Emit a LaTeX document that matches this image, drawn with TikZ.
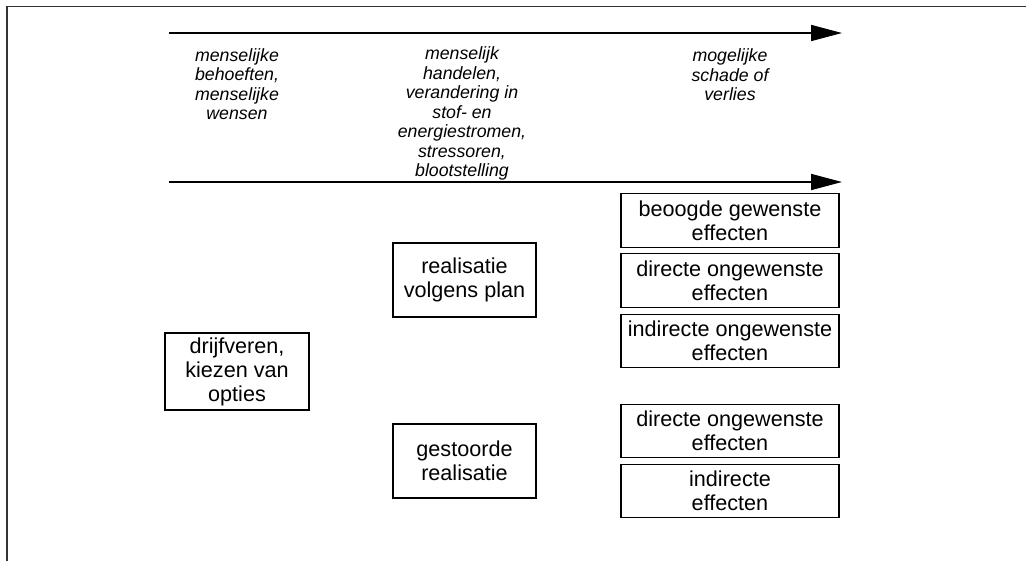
\documentclass[tikz,border=0pt]{standalone}
\usepackage{fontspec}
\setmainfont{Liberation Sans}
\usepackage{tikz}
\usetikzlibrary{arrows.meta}
\tikzset{
  heading/.style={align=center, inner sep=0pt, font=\fontsize{10.1}{11.1}\selectfont\itshape},
  stage/.style={draw, line width=0.8pt, align=center, inner sep=0pt,
    font=\fontsize{12.3}{13.7}\selectfont},
  timeline/.style={line width=1pt, -{Triangle[length=0.62cm, width=0.32cm]}}
}

\begin{document}
\begin{tikzpicture}
  \useasboundingbox (0,0) rectangle (20.52,11.22);

  % Draw the frame (top and left edge only)
  \draw[line width=1pt, black!80] (0.14,0) -- (0.14,11.09) -- (20.52,11.09);

  % Draw the time lines
  \coordinate (topstart) at (3.38,10.56);
  \coordinate (topend) at (16.84,10.56);
  \coordinate (lowstart) at (3.38,7.58);
  \coordinate (lowend) at (16.84,7.58);
  \draw[timeline] (topstart) -- (topend);
  \draw[timeline] (lowstart) -- (lowend);

  % Column headings
  \node[heading] (wensen) at (4.74,9.54) {menselijke\\behoeften,\\menselijke\\wensen};
  \node[heading] (handelen) at (9.24,8.95) {menselijk\\handelen,\\verandering in\\stof- en\\energiestromen,\\stressoren,\\blootstelling};
  \node[heading] (schade) at (14.6,9.72) {mogelijke\\schade of\\verlies};

  % Driving forces and realisation
  \node[stage, minimum width=2.88cm, minimum height=1.54cm] (drijf) at (4.74,3.79) {drijfveren,\\kiezen van\\opties};
  \node[stage, minimum width=2.86cm, minimum height=1.48cm] (plan) at (9.29,5.62) {realisatie\\volgens plan};
  \node[stage, minimum width=2.86cm, minimum height=1.48cm] (gestoord) at (9.29,2.0) {gestoorde\\realisatie};

  % Effects
  \foreach \n/\y/\t in {beoogd/6.81/{beoogde gewenste\\effecten},
                        direct/5.61/{directe ongewenste\\effecten},
                        indirect/4.40/{indirecte ongewenste\\effecten},
                        directb/2.60/{directe ongewenste\\effecten},
                        indirectb/1.40/{indirecte\\effecten}} {
    \node[stage, minimum width=4.36cm, minimum height=1.07cm] (\n) at (14.6,\y) {\t};
  }
\end{tikzpicture}
\end{document}
